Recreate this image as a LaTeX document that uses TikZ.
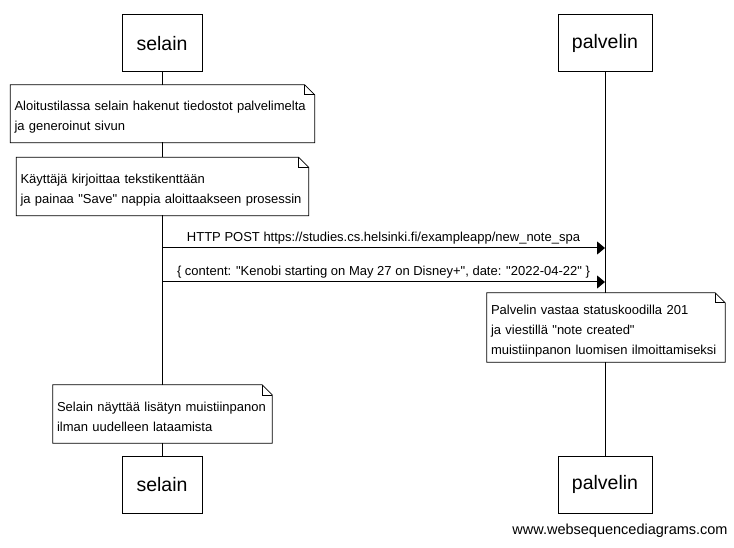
\documentclass[tikz,border=0pt]{standalone}
\usepackage{fontspec}
\setmainfont{Liberation Sans}[Ligatures=TeXOff]
\usetikzlibrary{arrows.meta}

\tikzset{
actor/.style={draw, line width=1pt, minimum height=57pt, inner sep=0pt, font=\fontsize{19.5}{23}\selectfont},
note/.style={fill=white, inner xsep=4pt, inner ysep=0pt, align=left, font=\fontsize{13}{20}\selectfont, execute at begin node={\rule{0pt}{16pt}}},
msg/.style={line width=1pt, -{Triangle[length=8pt,width=13pt]}},
}

\newcommand{\notebox}[1]{
\draw[line width=0.8pt] (#1.north west) -- ([xshift=-10pt]#1.north east) -- ([yshift=-10pt]#1.north east) -- (#1.south east) -- (#1.south west) -- cycle;
\draw[line width=0.6pt] ([xshift=-10pt]#1.north east) |- ([yshift=-10pt]#1.north east);
}

\begin{document}
\begin{tikzpicture}[x=1pt, y=-1pt]

\useasboundingbox (0,0) rectangle (734,548);

\node [actor, minimum width=80pt] (selainA) at (162,43.5) {selain};
\node [actor, minimum width=94pt] (palvelinA) at (605,43.5) {palvelin};
\node [actor, minimum width=80pt] (selainB) at (162,484.5) {selain};
\node [actor, minimum width=94pt] (palvelinB) at (605,484.5) {palvelin};

\draw[line width=1pt] (selainA.south) -- (selainB.north);
\draw[line width=1pt] (palvelinA.south) -- (palvelinB.north);

\node [note, minimum width=304pt, minimum height=57.5pt, text width=296pt] (note1) at (162.5,113.75) {Aloitustilassa selain hakenut tiedostot palvelimelta\\ja generoinut sivun};
\notebox{note1}

\node [note, minimum width=292pt, minimum height=58pt, text width=284pt] (note2) at (162.5,186.5) {K\"aytt\"aj\"a kirjoittaa tekstikentt\"a\"an\\ja painaa "Save" nappia aloittaakseen prosessin};
\notebox{note2}

\coordinate (s1) at (selainA.south |- 0,248);
\coordinate (p1) at (palvelinA.south |- 0,248);
\coordinate (s2) at (selainA.south |- 0,282);
\coordinate (p2) at (palvelinA.south |- 0,282);

\draw[msg] (s1) -- (p1) node[midway, above, font=\fontsize{13}{16}\selectfont, inner sep=3pt]{HTTP POST https://studies.cs.helsinki.fi/exampleapp/new\_note\_spa};
\draw[msg] (s2) -- (p2) node[midway, above, font=\fontsize{13}{16}\selectfont, inner sep=3pt]{\{ content: "Kenobi starting on May 27 on Disney+", date: "2022-04-22" \}};

\node [note, minimum width=238pt, minimum height=69pt, text width=230pt] (note3) at (606,327.5) {Palvelin vastaa statuskoodilla 201\\ja viestill\"a "note created"\\muistiinpanon luomisen ilmoittamiseksi};
\notebox{note3}

\node [note, minimum width=219pt, minimum height=58pt, text width=211pt] (note4) at (162.5,414) {Selain n\"aytt\"a\"a lis\"atyn muistiinpanon\\ilman uudelleen lataamista};
\notebox{note4}

\node [font=\fontsize{14.5}{17}\selectfont] (wsd) at (620,531) {www.websequencediagrams.com};

\end{tikzpicture}
\end{document}
